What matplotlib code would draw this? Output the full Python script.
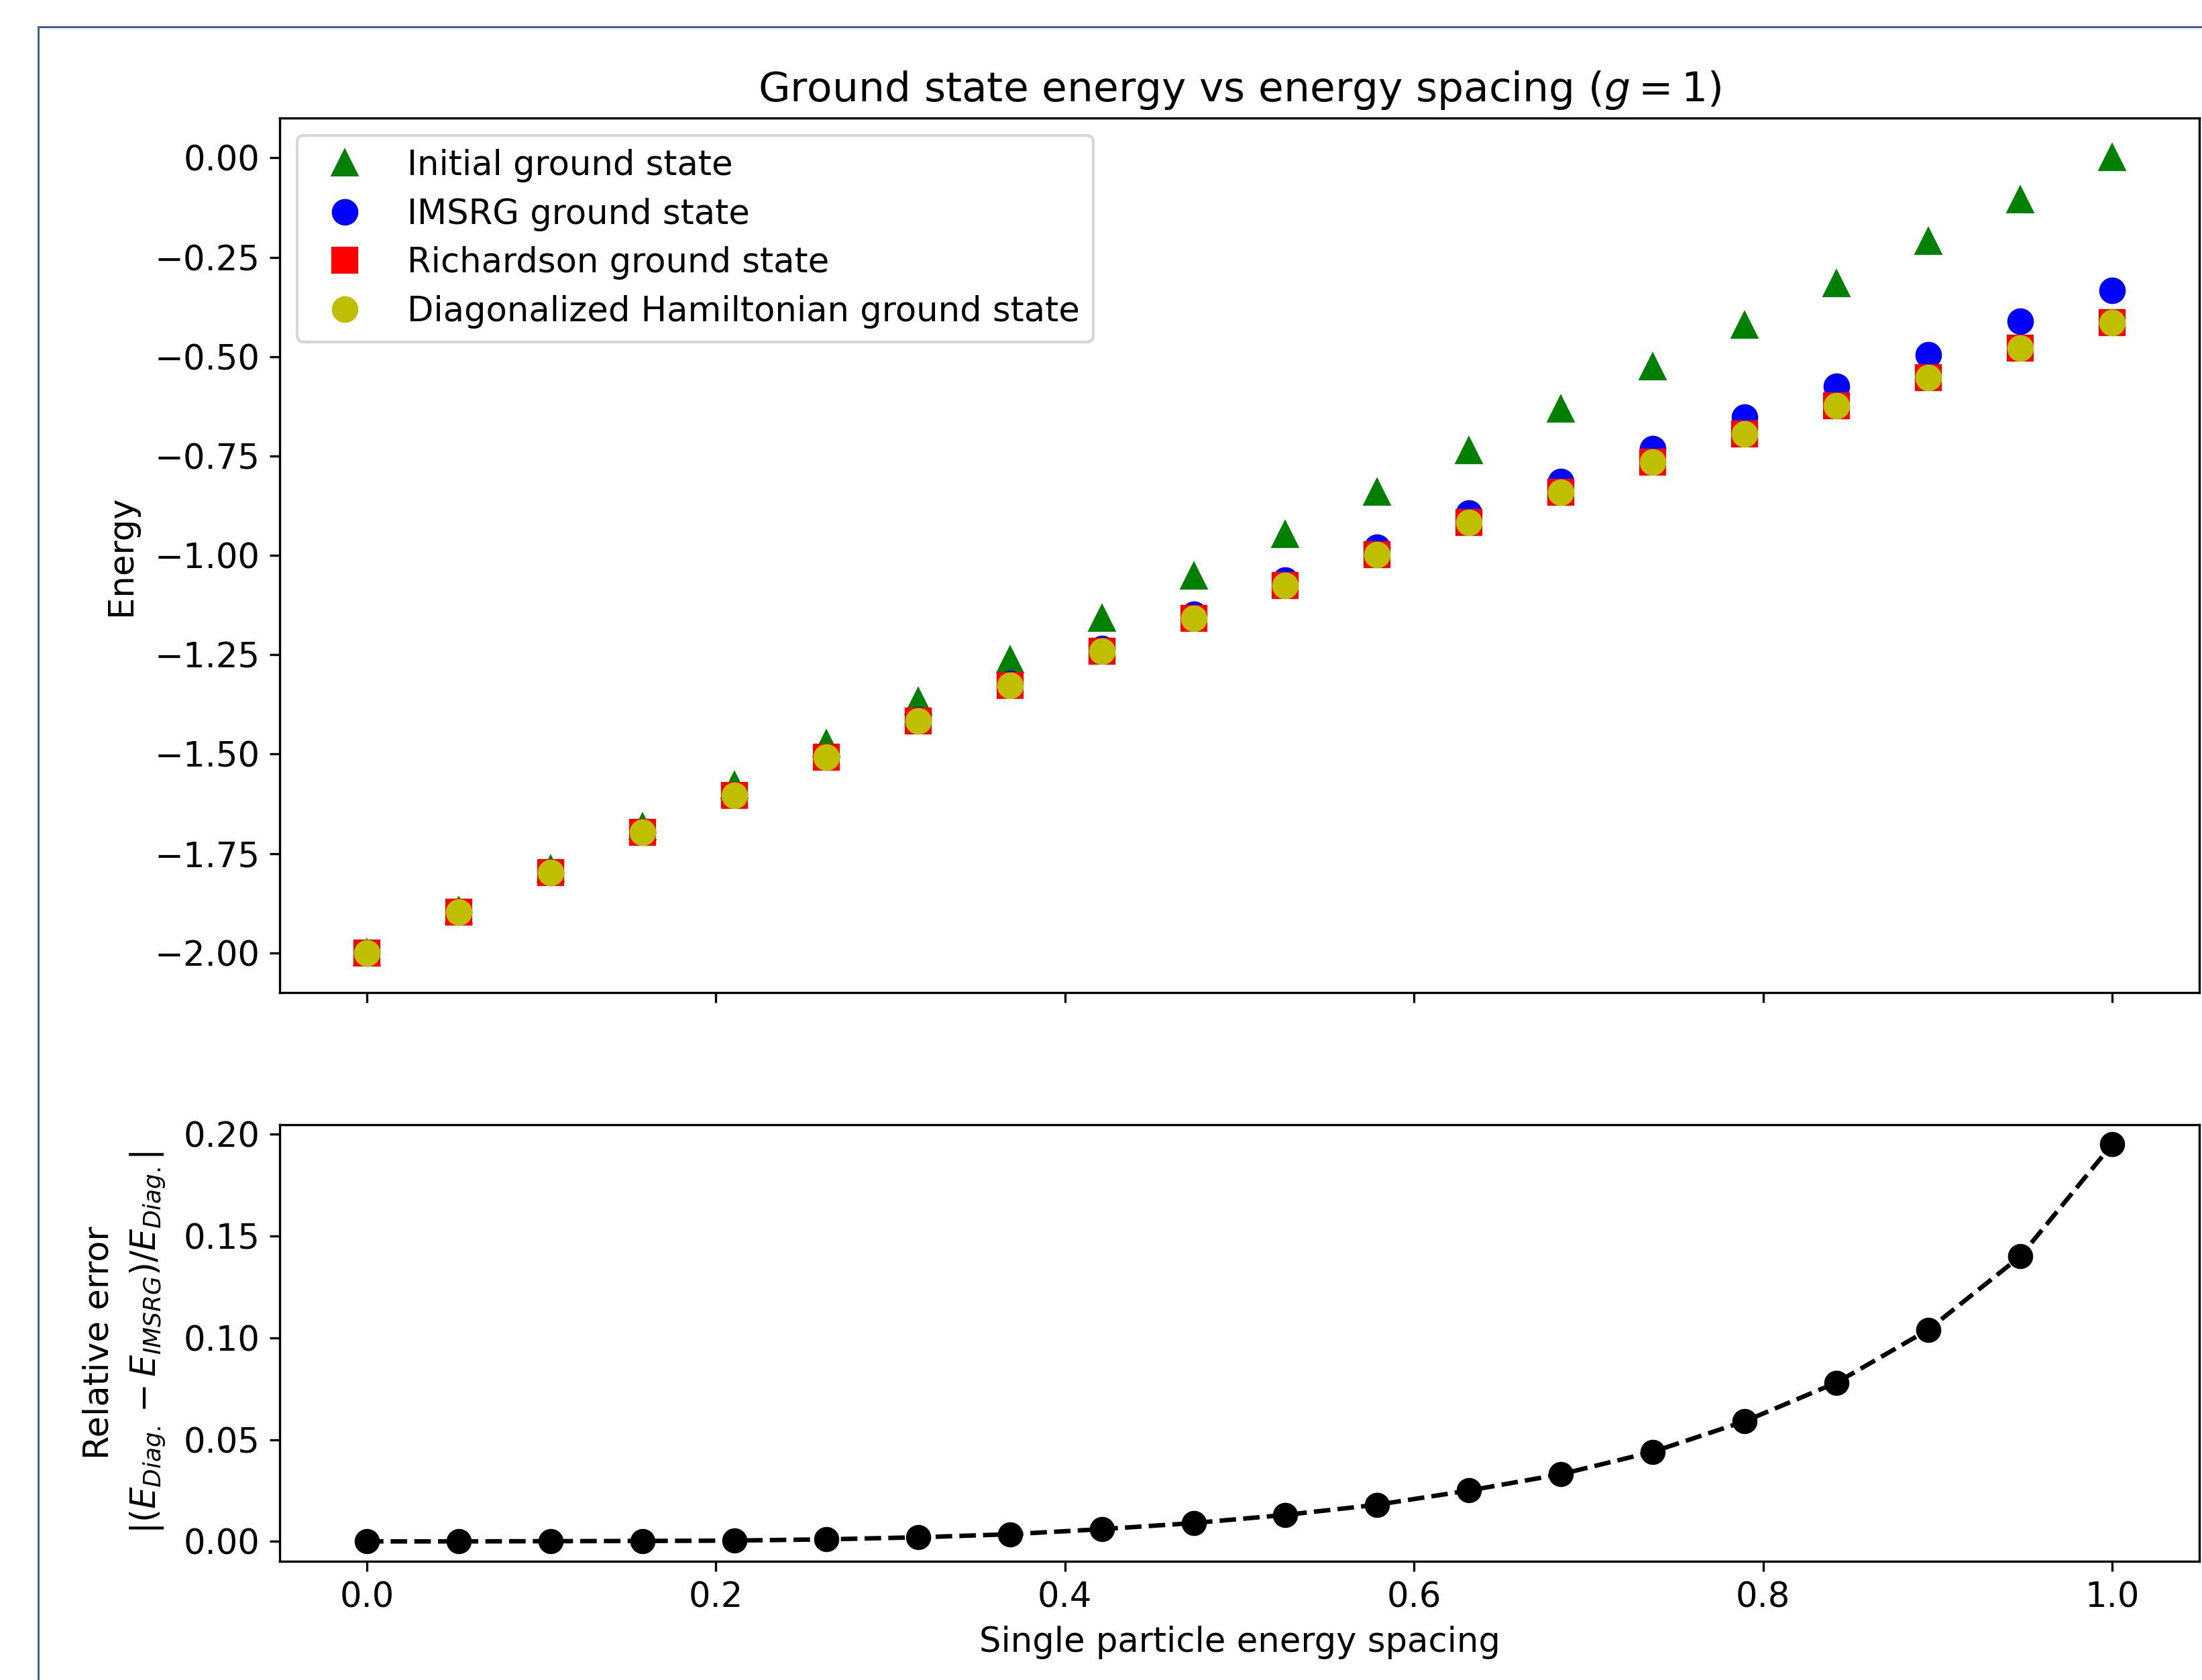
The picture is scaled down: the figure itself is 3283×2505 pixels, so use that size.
import matplotlib
matplotlib.use('Agg')
import matplotlib.pyplot as plt
from matplotlib.lines import Line2D

# single particle energy spacing (20 points)
spacing = [0.0, 0.0526, 0.1053, 0.1579, 0.2105, 0.2632, 0.3158, 0.3684, 0.4211, 0.4737,
           0.5263, 0.5789, 0.6316, 0.6842, 0.7368, 0.7895, 0.8421, 0.8947, 0.9474, 1.0]

initial_gs = [-2.000, -1.895, -1.789, -1.684, -1.579, -1.474, -1.368, -1.263, -1.158, -1.053,
              -0.947, -0.842, -0.737, -0.632, -0.526, -0.421, -0.316, -0.211, -0.105, 0.000]

imsrg_gs = [-2.000, -1.897, -1.798, -1.696, -1.603, -1.507, -1.413, -1.322, -1.235, -1.148,
            -1.062, -0.980, -0.894, -0.814, -0.731, -0.653, -0.574, -0.495, -0.411, -0.333]

richardson_gs = [-2.000, -1.897, -1.798, -1.696, -1.604, -1.508, -1.416, -1.327, -1.242, -1.158,
                 -1.076, -0.998, -0.917, -0.842, -0.765, -0.694, -0.623, -0.552, -0.478, -0.414]

diag_gs = [-2.000, -1.897, -1.798, -1.696, -1.604, -1.508, -1.416, -1.327, -1.242, -1.158,
           -1.076, -0.998, -0.917, -0.842, -0.765, -0.694, -0.623, -0.552, -0.478, -0.414]

rel_error = [0.0, 0.0, 0.0001, 0.0002, 0.0004, 0.001, 0.002, 0.0035, 0.006, 0.009,
             0.013, 0.018, 0.025, 0.033, 0.044, 0.059, 0.078, 0.104, 0.140, 0.195]

W, H = 3283, 2505
dpi = 300
fs = 12.3

plt.rcParams['font.size'] = fs
fig = plt.figure(figsize=(W / dpi, H / dpi), dpi=dpi)

ax1 = fig.add_axes([0.127, 0.4092, 0.8718, 0.5205])
ax2 = fig.add_axes([0.127, 0.0707, 0.8718, 0.2599], sharex=ax1)

ms = 8.5
ax1.plot(spacing, initial_gs, '^', color='g', markersize=ms, label='Initial ground state')
ax1.plot(spacing, imsrg_gs, 'o', color='b', markersize=ms, label='IMSRG ground state')
ax1.plot(spacing, richardson_gs, 's', color='r', markersize=ms, label='Richardson ground state')
ax1.plot(spacing, diag_gs, 'o', color='y', markersize=ms, label='Diagonalized Hamiltonian ground state')
ax1.set_ylabel('Energy', fontsize=fs, labelpad=6)
ax1.set_title('Ground state energy vs energy spacing ($g = 1$)', fontsize=fs * 1.2, pad=6)
ax1.legend(loc='upper left', fontsize=fs, labelspacing=0.44)
ax1.tick_params(labelbottom=False, labelsize=fs)

ax2.plot(spacing, rel_error, 'o--', color='k', markersize=8, linewidth=1.6)
ax2.set_xlabel('Single particle energy spacing', fontsize=fs)
ax2.set_ylabel('Relative error\n$|(E_{Diag.} - E_{IMSRG})/E_{Diag.}|$', fontsize=fs,
               labelpad=6, linespacing=1.45)
ax2.tick_params(labelsize=fs)
ax2.set_xticks([0.0, 0.2, 0.4, 0.6, 0.8, 1.0])
ax2.set_yticks([0.0, 0.05, 0.10, 0.15, 0.20])

# thin blue frame around the screenshot area
x0 = 57 / W
y0 = 1 - 40 / H
fig.add_artist(Line2D([x0, x0], [0, y0], transform=fig.transFigure, color='#3b5d9a', linewidth=0.7))
fig.add_artist(Line2D([x0, 1], [y0, y0], transform=fig.transFigure, color='#3b5d9a', linewidth=0.7))

fig.savefig('out.png', dpi=dpi)
